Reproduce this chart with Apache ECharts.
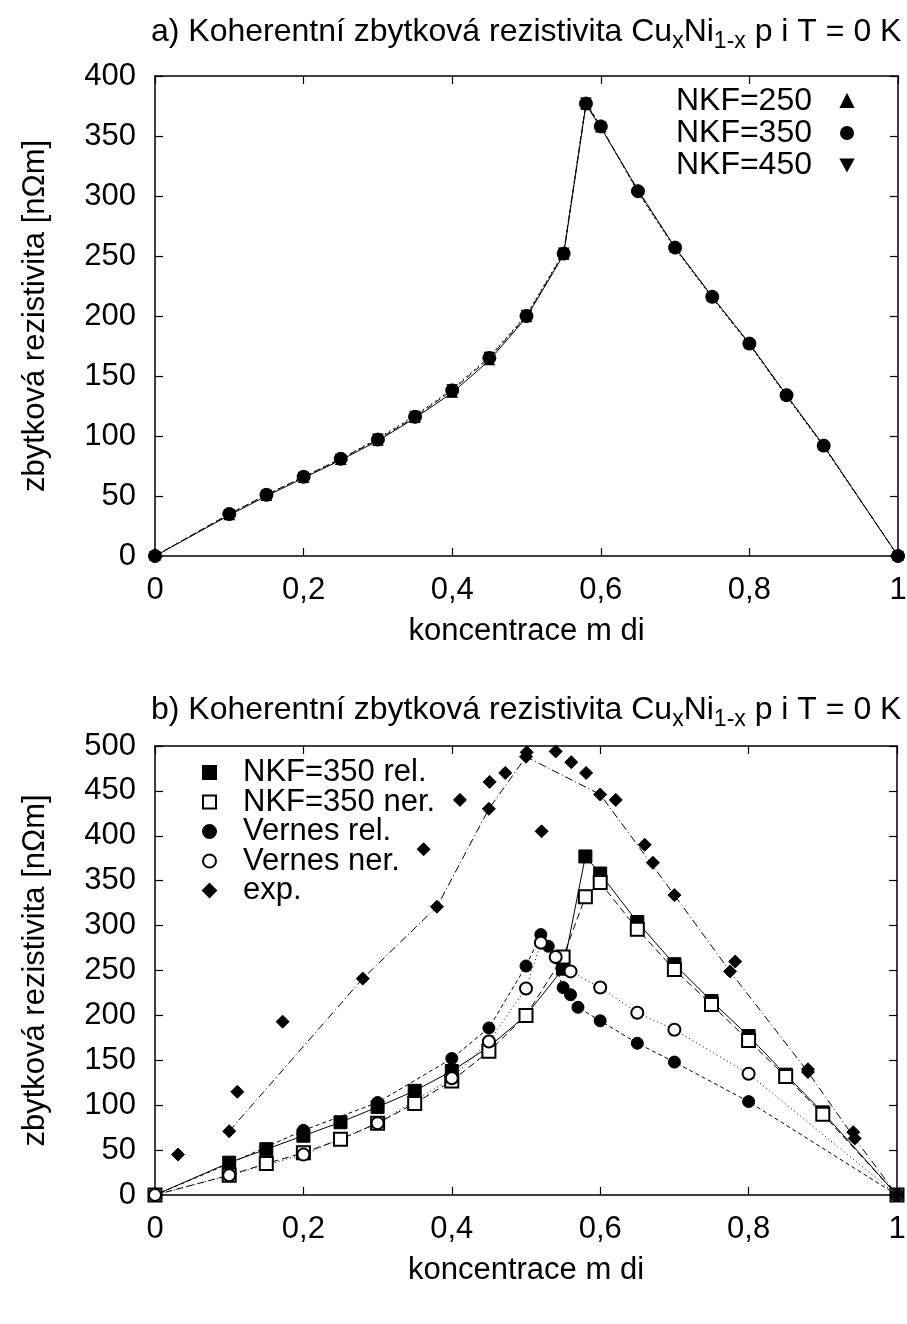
<!DOCTYPE html>
<html>
<head>
<meta charset="utf-8">
<script src="https://cdn.jsdelivr.net/npm/echarts@6/dist/echarts.min.js"></script>
<style>
  html, body { margin: 0; padding: 0; background: #fff; }
  #chart { width: 907px; height: 1324px; }
</style>
</head>
<body>
<div id="chart"></div>
<script>
  // a) koherentní zbytková rezistivita, tři hodnoty NKF
  const xA = [0, 0.1, 0.15, 0.2, 0.25, 0.3, 0.35, 0.4, 0.45, 0.5, 0.55, 0.58, 0.6, 0.65, 0.7, 0.75, 0.8, 0.85, 0.9, 1]
  const nkf250 = [0, 34, 50, 65, 80, 96, 115, 136, 163, 199, 251, 376, 357, 305, 257, 216, 177, 134, 92, 0]
  const nkf350 = [0, 35, 51, 66, 81, 97, 116, 138, 165, 200, 252, 377, 358, 304, 257, 216, 177, 134, 92, 0]
  const nkf450 = [0, 35, 51, 66, 81, 98, 117, 139, 166, 201, 253, 378, 358, 303, 256, 215, 176, 133, 91, 0]

  // b) srovnání s Vernesem a experimentem
  const xB = [0, 0.1, 0.15, 0.2, 0.25, 0.3, 0.35, 0.4, 0.45, 0.5, 0.55, 0.58, 0.6, 0.65, 0.7, 0.75, 0.8, 0.85, 0.9, 1]
  const nkfRel = [0, 36, 51, 66, 81, 98, 116, 138, 165, 200, 252, 377, 358, 304, 257, 216, 177, 134, 92, 0]
  const nkfNer = [0, 22, 35, 47, 62, 80, 102, 127, 160, 200, 265, 332, 348, 296, 251, 212, 172, 132, 90, 0]
  const xVernesRel = [0, 0.1, 0.2, 0.3, 0.4, 0.45, 0.5, 0.52, 0.53, 0.55, 0.56, 0.57, 0.6, 0.65, 0.7, 0.8, 1]
  const vernesRel = [0, 35, 72, 103, 152, 186, 255, 290, 277, 231, 223, 209, 194, 169, 148, 104, 0]
  const xVernesNer = [0, 0.1, 0.2, 0.3, 0.4, 0.45, 0.5, 0.52, 0.54, 0.56, 0.6, 0.65, 0.7, 0.8, 1]
  const vernesNer = [0, 22, 45, 80, 130, 171, 230, 281, 265, 249, 231, 203, 184, 135, 0]
  const xExpLine = [0.1, 0.28, 0.38, 0.45, 0.5, 0.6, 0.7, 0.775, 0.88, 0.943, 1]
  const expLine = [71, 241, 321, 430, 488, 446, 334, 249, 137, 63, 0]
  const xExpPts = [0.031, 0.111, 0.172, 0.362, 0.411, 0.451, 0.472, 0.501, 0.521, 0.54, 0.561, 0.581, 0.621, 0.66, 0.671, 0.782, 0.88, 0.941]
  const expPts = [45, 115, 193, 385, 440, 460, 470, 493, 405, 494, 482, 470, 440, 390, 370, 260, 140, 70]

  const font = 'Liberation Sans, Arial, Helvetica, sans-serif'
  const fs = 31
  const zip = (xs, ys) => xs.map((x, i) => [x, ys[i]])
  const triDown = 'path://M0,0L10,0L5,9Z'

  const titleRich = {
    n: { fontSize: 32, fontWeight: 'normal', fontFamily: font, color: '#000' },
    s: { fontSize: 23, fontWeight: 'normal', fontFamily: font, color: '#000', padding: [19, 0, 0, 0] }
  }
  const titleText = p => '{n|' + p + ') Koherentní zbytková rezistivita Cu}{s|x}{n|Ni}{s|1-x}{n| p i T = 0 K}'

  function xAxes(grid) {
    return [
      {
        type: 'value', gridIndex: grid, min: 0, max: 1, interval: 0.2,
        name: 'koncentrace m di', nameLocation: 'middle', nameGap: 60,
        nameTextStyle: { fontSize: fs, fontFamily: font, color: '#000' },
        axisLine: { onZero: false, lineStyle: { color: '#000', width: 1.5 } },
        axisTick: { inside: true, length: 8, lineStyle: { color: '#000', width: 1.2 } },
        axisLabel: {
          margin: 19, fontSize: fs, fontFamily: font, color: '#000',
          formatter: v => String(+v.toFixed(1)).replace('.', ',')
        },
        splitLine: { show: false }
      },
      {
        type: 'value', gridIndex: grid, position: 'top', min: 0, max: 1, interval: 0.2,
        axisLine: { onZero: false, lineStyle: { color: '#000', width: 1.5 } },
        axisTick: { inside: true, length: 8, lineStyle: { color: '#000', width: 1.2 } },
        axisLabel: { show: false },
        splitLine: { show: false }
      }
    ]
  }

  function yAxes(grid, max) {
    return [
      {
        type: 'value', gridIndex: grid, min: 0, max: max, interval: 50,
        name: 'zbytková rezistivita [nΩm]', nameLocation: 'middle', nameGap: 104,
        nameTextStyle: { fontSize: fs, fontFamily: font, color: '#000' },
        axisLine: { show: true, onZero: false, lineStyle: { color: '#000', width: 1.5 } },
        axisTick: { show: true, inside: true, length: 8, lineStyle: { color: '#000', width: 1.2 } },
        axisLabel: { margin: 19, fontSize: fs, fontFamily: font, color: '#000' },
        splitLine: { show: false }
      },
      {
        type: 'value', gridIndex: grid, position: 'right', min: 0, max: max, interval: 50,
        axisLine: { show: true, onZero: false, lineStyle: { color: '#000', width: 1.5 } },
        axisTick: { show: true, inside: true, length: 8, lineStyle: { color: '#000', width: 1.2 } },
        axisLabel: { show: false },
        splitLine: { show: false }
      }
    ]
  }

  function lineOf(name, data, xi, dash) {
    return {
      name: name, type: 'line', xAxisIndex: xi, yAxisIndex: xi, data: data,
      showSymbol: false, silent: true, z: 2, animation: false,
      lineStyle: { color: '#000', width: 1, type: dash }
    }
  }

  function pointsOf(name, data, xi, symbol, size) {
    return {
      name: name, type: 'scatter', xAxisIndex: xi, yAxisIndex: xi, data: data,
      symbol: symbol, symbolSize: size, z: 3, animation: false,
      itemStyle: { color: '#000', borderColor: '#000', borderWidth: 1, opacity: 1 }
    }
  }

  const chart = echarts.init(document.getElementById('chart'), null, { renderer: 'canvas' })
  chart.setOption({
    backgroundColor: '#fff',
    animation: false,
    title: [
      { text: titleText('a'), left: 146, top: 6, textStyle: { fontWeight: 'normal', rich: titleRich } },
      { text: titleText('b'), left: 146, top: 684, textStyle: { fontWeight: 'normal', rich: titleRich } }
    ],
    legend: [
      {
        data: ['NKF=250', 'NKF=350', 'NKF=450'],
        orient: 'vertical', right: 48, top: 80, align: 'right',
        itemWidth: 12, itemHeight: 12, itemGap: 0, selectedMode: false,
        textStyle: { fontSize: 32, fontFamily: font, color: '#000', lineHeight: 31, padding: [0, 24, 0, 0] }
      },
      {
        data: ['NKF=350 rel.', 'NKF=350 ner.', 'Vernes rel.', 'Vernes ner.', 'exp.'],
        orient: 'vertical', left: 197, top: 752, align: 'left',
        itemWidth: 13, itemHeight: 13, itemGap: -1.5, selectedMode: false,
        textStyle: { fontSize: fs, fontFamily: font, color: '#000', lineHeight: 28.5, padding: [0, 0, 0, 22] }
      }
    ],
    grid: [
      { left: 155, right: 9, top: 76, height: 480, outerBoundsMode: 'none' },
      { left: 155, right: 10, top: 746, height: 449, outerBoundsMode: 'none' }
    ],
    xAxis: [...xAxes(0), ...xAxes(1)],
    yAxis: [...yAxes(0, 400), ...yAxes(1, 500)],
    series: [
      // a)
      lineOf('l250', zip(xA, nkf250), 0, 'solid'),
      lineOf('l350', zip(xA, nkf350), 0, [6, 4]),
      lineOf('l450', zip(xA, nkf450), 0, [2, 3]),
      pointsOf('NKF=250', zip(xA, nkf250), 0, 'triangle', [10, 9]),
      pointsOf('NKF=350', zip(xA, nkf350), 0, 'circle', 13),
      pointsOf('NKF=450', zip(xA, nkf450), 0, triDown, [10, 9]),
      // b)
      lineOf('lRel', zip(xB, nkfRel), 2, 'solid'),
      lineOf('lNer', zip(xB, nkfNer), 2, [7, 4]),
      lineOf('lVRel', zip(xVernesRel, vernesRel), 2, [4, 3]),
      lineOf('lVNer', zip(xVernesNer, vernesNer), 2, [1, 3]),
      lineOf('lExp', zip(xExpLine, expLine), 2, [8, 3, 1, 3]),
      pointsOf('NKF=350 rel.', zip(xB, nkfRel), 2, 'rect', 13),
      pointsOf('NKF=350 ner.', zip(xB, nkfNer), 2, 'emptyRect', 13),
      pointsOf('Vernes rel.', zip(xVernesRel, vernesRel), 2, 'circle', 12),
      pointsOf('Vernes ner.', zip(xVernesNer, vernesNer), 2, 'emptyCircle', 12),
      pointsOf('exp.', zip(xExpLine, expLine).concat(zip(xExpPts, expPts)), 2, 'diamond', 13)
    ]
  })
</script>
</body>
</html>
